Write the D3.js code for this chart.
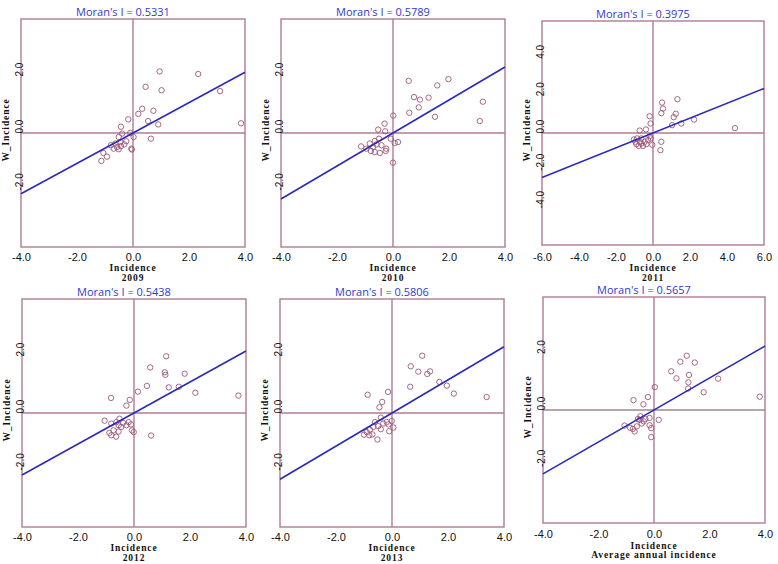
<!DOCTYPE html>
<html><head><meta charset="utf-8">
<script src="https://cdn.jsdelivr.net/npm/d3@7"></script>
<style>body{margin:0;background:#fff}svg{display:block}</style>
</head><body><svg id="c" width="778" height="564"></svg>
<script>
// ---------- data ----------
const panelLabels = ["2009", "2010", "2011", "2012", "2013", "Average annual incidence"];
const moransI = [0.5331, 0.5789, 0.3975, 0.5438, 0.5806, 0.5657];

const inc2009 = [0.95, 2.33, 0.45, 1.02, 3.11, 0.33, 0.73, 0.19, -0.17, 0.54, 0.90, 3.86, -0.43, -0.39, -0.10, 0.02, 0.64, -0.51, -0.24, -0.31, -0.43, -0.79, -0.69, -0.57, -0.51, -0.06, -0.04, -1.06, -0.93, -1.13, -0.63, -0.45];
const w2009   = [2.16, 2.07, 1.62, 1.50, 1.47, 0.85, 0.78, 0.67, 0.48, 0.42, 0.30, 0.34, 0.22, -0.02, 0.00, -0.14, -0.20, -0.14, -0.29, -0.40, -0.46, -0.43, -0.55, -0.49, -0.57, -0.55, -0.58, -0.70, -0.83, -0.98, -0.37, -0.32];

const inc2010 = [0.56, 1.98, 1.58, 0.75, 0.96, 1.27, 0.92, 3.21, 0.58, 1.50, 3.10, 0.01, -0.30, -0.53, -0.28, -0.08, 0.06, 0.18, -1.14, -0.83, -0.65, -0.50, -0.41, -0.71, -0.95, -0.79, -0.65, -0.47, -0.26, -0.24, -0.59, 0.00];
const w2010   = [1.83, 1.89, 1.67, 1.26, 1.17, 1.24, 0.90, 1.10, 0.71, 0.57, 0.42, 0.61, 0.33, 0.12, 0.06, -0.20, -0.35, -0.32, -0.47, -0.37, -0.28, -0.20, -0.43, -0.49, -0.55, -0.63, -0.67, -0.70, -0.63, -0.55, -0.40, -1.04];

const inc2011 = [1.32, 0.49, 0.54, 0.45, 1.23, 1.12, -0.18, -0.13, 1.03, 1.53, 2.22, 4.43, -0.72, -0.38, -0.13, -0.04, 0.45, 0.40, -1.03, -0.86, -0.90, -0.77, -0.63, -0.54, -0.45, -0.36, -0.63, -0.27, -0.72, -0.95, -0.18];
const w2011   = [1.81, 1.63, 1.31, 1.06, 1.03, 0.85, 0.90, 0.51, 0.42, 0.51, 0.72, 0.26, 0.13, 0.19, -0.29, -0.63, -0.47, -0.92, -0.35, -0.29, -0.60, -0.69, -0.56, -0.69, -0.47, -0.60, -0.29, -0.38, -0.47, -0.47, -0.17];

const inc2012 = [1.15, 0.58, 1.10, 1.12, 1.81, 0.46, 1.24, 1.60, 2.19, 3.73, 0.14, -0.82, -0.15, -0.27, -1.05, -0.81, -0.63, -0.52, -0.55, -0.39, -0.27, -0.19, -0.11, -0.07, -0.01, -0.88, -0.81, -0.73, -0.64, -0.55, 0.61, -0.46];
const w2012   = [1.99, 1.60, 1.43, 1.34, 1.38, 0.95, 0.90, 0.92, 0.71, 0.61, 0.75, 0.53, 0.46, 0.26, -0.27, -0.37, -0.32, -0.20, -0.43, -0.35, -0.43, -0.32, -0.40, -0.61, -0.67, -0.70, -0.78, -0.61, -0.83, -0.65, -0.79, -0.49];

const inc2013 = [1.08, 0.67, 0.94, 1.26, 1.36, 0.65, 1.69, 1.96, 2.21, 3.38, -0.14, -0.87, -0.35, -0.45, -0.40, -0.19, -0.01, 0.05, -0.10, -0.40, -0.61, -0.67, -0.79, -0.90, -1.00, -0.81, -0.70, -0.52, -0.49, -0.31, -0.13];
const w2013   = [2.01, 1.64, 1.45, 1.37, 1.46, 0.92, 1.09, 0.96, 0.68, 0.56, 0.74, 0.64, 0.39, 0.20, -0.16, -0.32, -0.28, -0.51, -0.64, -0.57, -0.32, -0.49, -0.58, -0.67, -0.76, -0.78, -0.75, -0.93, -0.46, -0.37, -0.40];

const incAvg = [1.18, 0.95, 1.47, 0.62, 1.26, 0.81, 1.24, 1.23, 2.31, 1.79, 3.81, 0.03, -0.22, -0.74, -0.38, 0.17, -0.16, -0.10, -0.10, -1.06, -0.86, -0.70, -0.62, -0.58, -0.49, -0.44, -0.37, -0.31, -0.16, -0.76, -0.52];
const wAvg   = [1.92, 1.71, 1.68, 1.37, 1.24, 1.12, 0.98, 0.76, 1.11, 0.63, 0.47, 0.81, 0.46, 0.35, 0.20, -0.35, -0.28, -0.64, -0.96, -0.55, -0.63, -0.76, -0.58, -0.32, -0.22, -0.48, -0.40, -0.32, -0.54, -0.67, -0.35];

const xTicks4 = [-4, -2, 0, 2, 4];
const yTicks4 = [-2, 0, 2];
const xTicks6 = [-6, -4, -2, 0, 2, 4, 6];
const yTicks6 = [-4, -2, 0, 2, 4];
const domain4 = [-4, 4];
const domain6 = [-6, 6];

// ---------- layout ----------
const panels = [
  {xs: inc2009, ys: w2009, left: 21, top: 19, w: 224, h: 228, dom: domain4, xt: xTicks4, yt: yTicks4, off: [14, 24, 34]},
  {xs: inc2010, ys: w2010, left: 281, top: 19, w: 224, h: 228, dom: domain4, xt: xTicks4, yt: yTicks4, off: [14, 24, 34]},
  {xs: inc2011, ys: w2011, left: 542, top: 21, w: 222, h: 224, dom: domain6, xt: xTicks6, yt: yTicks6, off: [16, 26, 36]},
  {xs: inc2012, ys: w2012, left: 22, top: 299, w: 224, h: 228, dom: domain4, xt: xTicks4, yt: yTicks4, off: [14, 24, 34]},
  {xs: inc2013, ys: w2013, left: 280, top: 299, w: 224, h: 228, dom: domain4, xt: xTicks4, yt: yTicks4, off: [14, 24, 34]},
  {xs: incAvg, ys: wAvg, left: 543, top: 297, w: 222, h: 226, dom: domain4, xt: xTicks4, yt: yTicks4, off: [15, 26, 35]}
];

const frameCol = "#b07a95";
const ptCol = "#9c5878";
const lineCol = "#2a2abb";
const titleCol = "#2d3ad2";

const svg = d3.select("#c");
svg.append("rect").attr("width", 778).attr("height", 564).attr("fill", "#fff");

panels.forEach((p, i) => {
  const x = d3.scaleLinear().domain(p.dom).range([p.left, p.left + p.w]);
  const y = d3.scaleLinear().domain(p.dom).range([p.top + p.h, p.top]);
  const g = svg.append("g");
  const bottom = p.top + p.h;

  // frame
  g.append("rect").attr("x", x(p.dom[0])).attr("y", y(p.dom[1]))
    .attr("width", x(p.dom[1]) - x(p.dom[0])).attr("height", y(p.dom[0]) - y(p.dom[1]))
    .attr("fill", "none").attr("stroke", frameCol).attr("stroke-width", 1.4);
  // crosshair
  g.append("line").attr("x1", x(0)).attr("x2", x(0)).attr("y1", y(p.dom[0])).attr("y2", y(p.dom[1]))
    .attr("stroke", frameCol).attr("stroke-width", 1.4);
  g.append("line").attr("x1", x(p.dom[0])).attr("x2", x(p.dom[1])).attr("y1", y(0)).attr("y2", y(0))
    .attr("stroke", i === 5 ? "#9c8890" : frameCol).attr("stroke-width", 1.4);

  // points
  g.selectAll("circle.pt").data(d3.range(p.xs.length)).join("circle")
    .attr("class", "pt")
    .attr("cx", k => x(p.xs[k])).attr("cy", k => y(p.ys[k])).attr("r", 2.7)
    .attr("fill", "none").attr("stroke", ptCol).attr("stroke-width", 0.9);

  // regression line (slope = Moran's I)
  const I = moransI[i];
  g.append("line")
    .attr("x1", x(p.dom[0])).attr("y1", y(I * p.dom[0]))
    .attr("x2", x(p.dom[1])).attr("y2", y(I * p.dom[1]))
    .attr("stroke", lineCol).attr("stroke-width", 1.6);

  // x axis
  const xa = g.append("g").attr("transform", `translate(0,${bottom})`)
    .call(d3.axisBottom(x).tickValues(p.xt).tickSize(0).tickPadding(0).tickFormat(d => d.toFixed(1)));
  xa.select(".domain").remove();
  xa.selectAll("text").attr("y", p.off[0]).attr("dy", 0)
    .attr("font-family", "Liberation Sans, Arial, sans-serif").attr("font-size", 11).attr("fill", "#111");

  // y axis
  const ya = g.append("g").attr("transform", `translate(${p.left},0)`)
    .call(d3.axisLeft(y).tickValues(p.yt).tickSize(0).tickPadding(0).tickFormat(d => d.toFixed(1)));
  ya.select(".domain").remove();
  ya.selectAll("text").attr("x", 0).attr("y", 1.5).attr("dy", 0)
    .attr("transform", "rotate(-90)").attr("text-anchor", "start")
    .attr("font-family", "Liberation Sans, Arial, sans-serif").attr("font-size", 10).attr("fill", "#111");

  const cx = p.left + p.w / 2;
  // title
  g.append("text").attr("x", cx - 10).attr("y", p.top - 3).attr("text-anchor", "middle")
    .attr("font-family", "Open Sans, Noto Sans, sans-serif").attr("font-size", 11)
    .attr("fill", titleCol).text(`Moran's I = ${I.toFixed(4)}`);

  // axis titles
  const serif = "Liberation Serif, Times New Roman, serif";
  g.append("text").attr("x", cx).attr("y", bottom + p.off[1]).attr("text-anchor", "middle")
    .attr("font-family", serif).attr("font-weight", "bold").attr("font-size", 9.5)
    .attr("letter-spacing", 0.9).attr("fill", "#111").text("Incidence");
  g.append("text").attr("x", cx).attr("y", bottom + p.off[2]).attr("text-anchor", "middle")
    .attr("font-family", serif).attr("font-weight", "bold").attr("font-size", 9.5)
    .attr("letter-spacing", 0.9).attr("fill", "#111").text(panelLabels[i]);
  g.append("text").attr("transform", `translate(${p.left - 12},${p.top + p.h / 2 - 3}) rotate(-90)`)
    .attr("text-anchor", "middle")
    .attr("font-family", serif).attr("font-weight", "bold").attr("font-size", 9.5)
    .attr("letter-spacing", 0.9).attr("fill", "#111").text("W_Incidence");
});
</script></body></html>
